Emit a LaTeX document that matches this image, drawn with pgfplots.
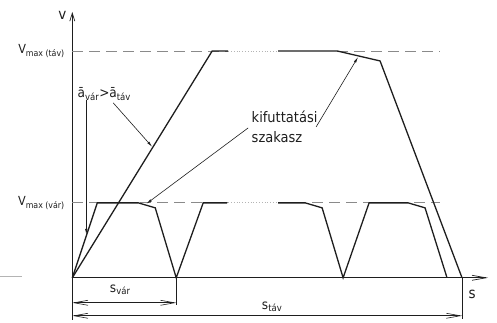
\documentclass[border=0pt]{standalone}
\usepackage{fontspec}
\setmainfont{DejaVu Sans Condensed}
\usepackage{pgfplots}
\pgfplotsset{compat=1.18}
\usetikzlibrary{arrows.meta}

\definecolor{ink}{HTML}{1E1E1E}
\definecolor{dashgray}{HTML}{8A8A8A}
\definecolor{dotgray}{HTML}{B4B4B4}

\begin{document}
\begin{tikzpicture}
\begin{axis}[
    x=1pt, y=1pt,
    xmin=-72, xmax=425,
    ymin=-45, ymax=278,
    hide axis,
    clip=false,
    font=\fontsize{12.5}{14}\selectfont,
]
% keret (lathatatlan)
\addplot[draw=none] coordinates {(-72,-45) (425,278)};

% tengelyek
\addplot[ink, line width=0.7pt, -{Straight Barb[length=8pt,width=5pt]}] coordinates {(0,-42) (0,266)};
\addplot[ink, line width=0.7pt, -{Straight Barb[length=14pt,width=5pt]}] coordinates {(0,0) (416,0)};
\addplot[dotgray, line width=0.7pt] coordinates {(-72,1) (-50,1)};

% v_max szintek
\addplot[dashgray, line width=0.9pt, dash pattern=on 11pt off 6pt] coordinates {(0,227) (156,227)};
\addplot[dashgray, line width=0.9pt, dash pattern=on 11pt off 6pt] coordinates {(265,227) (368,227)};
\addplot[dashgray, line width=0.9pt, dash pattern=on 11pt off 6pt] coordinates {(0,75) (156,75)};
\addplot[dashgray, line width=0.9pt, dash pattern=on 11pt off 6pt] coordinates {(206,75) (368,75)};
\addplot[dotgray, line width=0.8pt, dotted] coordinates {(156,227) (206,227)};
\addplot[dotgray, line width=0.8pt, dotted] coordinates {(156,75) (206,75)};

% tavolsagi
\addplot[ink, line width=1.3pt] coordinates {(0,0) (140,227) (156,227)};
\addplot[ink, line width=1.3pt] coordinates {(206,227) (265,227) (308,217) (390,0)};

% varosi
\addplot[ink, line width=1.3pt] coordinates {(0,0) (25,75) (66,75) (83,70) (104,0) (131,75) (155,75)};
\addplot[ink, line width=1.3pt] coordinates {(206,75) (233,75) (250,70) (271,0) (297,75) (336,75) (353,70) (375,0)};

% mutato vonalak
\addplot[ink, line width=0.6pt, -{Latex[length=6pt,width=2.5pt]}] coordinates {(14,178) (14,43)};
\addplot[ink, line width=0.6pt, -{Latex[length=6pt,width=2.5pt]}] coordinates {(41,175) (80,131)};
\addplot[ink, line width=0.6pt, -{Latex[length=6pt,width=2.5pt]}] coordinates {(244,151) (286,221)};
\addplot[ink, line width=0.6pt, -{Latex[length=6pt,width=2.5pt]}] coordinates {(176,150) (74,74)};

% meretvonalak
\addplot[ink, line width=0.6pt] coordinates {(104,0) (104,-27)};
\addplot[ink, line width=0.6pt] coordinates {(390,0) (390,-41)};
\addplot[ink, line width=0.6pt, {Straight Barb[length=14pt,width=5pt]}-{Straight Barb[length=14pt,width=5pt]}] coordinates {(0,-25) (104,-25)};
\addplot[ink, line width=0.6pt, {Straight Barb[length=14pt,width=5pt]}-{Straight Barb[length=14pt,width=5pt]}] coordinates {(0,-38) (390,-38)};

% feliratok
\node[ink, anchor=east] at (axis cs:-4,227) {V\textsubscript{max (táv)}};
\node[ink, anchor=east] at (axis cs:-4,75) {V\textsubscript{max (vár)}};
\node[ink, font=\fontsize{15}{16}\selectfont] at (axis cs:-10,263) {v};
\node[ink, font=\fontsize{15}{16}\selectfont] at (axis cs:400,-17) {s};
\node[ink, font=\fontsize{13.5}{16}\selectfont] at (axis cs:32,184) {ā\textsubscript{vár}>ā\textsubscript{táv}};
\node[ink, anchor=west, align=left, font=\fontsize{14.5}{20}\selectfont] at (axis cs:176,151) {kifuttatási\\szakasz};
\node[ink, font=\fontsize{13.5}{16}\selectfont] at (axis cs:48,-12) {s\textsubscript{vár}};
\node[ink, font=\fontsize{13.5}{16}\selectfont] at (axis cs:200,-29) {s\textsubscript{táv}};
\end{axis}
\end{tikzpicture}
\end{document}
